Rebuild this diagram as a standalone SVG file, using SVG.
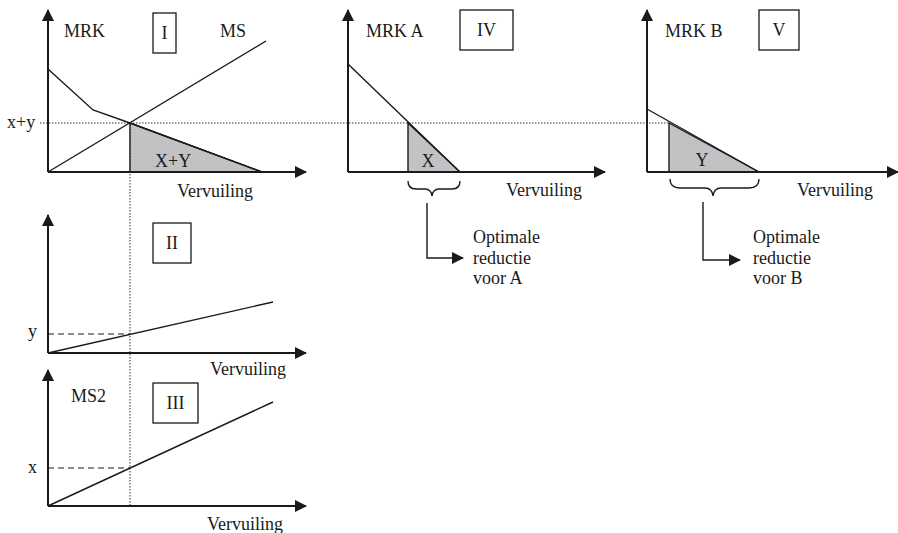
<svg xmlns="http://www.w3.org/2000/svg" width="898" height="533" viewBox="0 0 898 533">
<style>
text{font-family:"Liberation Serif","Times New Roman",serif;font-size:18px;fill:#1a1a1a}
.ax{stroke:#1a1a1a;stroke-width:2;fill:none}
.ln{stroke:#1a1a1a;stroke-width:1.4;fill:none}
.dot{stroke:#333;stroke-width:1;stroke-dasharray:1.5 1.5;fill:none}
.dash{stroke:#1a1a1a;stroke-width:1.2;stroke-dasharray:6 4;fill:none}
.sh{fill:#c2c2c4;stroke:#1a1a1a;stroke-width:1.4}
.box{fill:#fff;stroke:#1a1a1a;stroke-width:1.3}
.ah{fill:#1a1a1a}
</style>
<defs>
<marker id="arr" viewBox="0 0 12 12" refX="11" refY="6" markerWidth="12" markerHeight="12" markerUnits="userSpaceOnUse" orient="auto">
<path d="M0,0 L12,6 L0,12 Z" class="ah"/>
</marker>
</defs>

<g id="guides">
<line class="dot" x1="40" y1="123" x2="669" y2="123"/>
<line class="dot" x1="130" y1="123" x2="130" y2="505"/>
</g>

<g id="panel-I">
<polygon class="sh" points="130,123 262,172 130,172"/>
<line class="ax" x1="48" y1="172" x2="48" y2="10" marker-end="url(#arr)"/>
<line class="ax" x1="48" y1="172" x2="306" y2="172" marker-end="url(#arr)"/>
<polyline class="ln" points="48,69 93,110 130,123 262,172"/>
<line class="ln" x1="48" y1="172" x2="266" y2="41"/>
<rect class="box" x="153" y="13" width="23" height="40"/>
<text x="164.5" y="39" text-anchor="middle">I</text>
<text x="64" y="37">MRK</text>
<text x="220" y="37">MS</text>
<text x="7" y="128">x+y</text>
<text x="155" y="167">X+Y</text>
<text x="177" y="197">Vervuiling</text>
</g>

<g id="panel-II">
<line class="ax" x1="48" y1="353" x2="48" y2="215" marker-end="url(#arr)"/>
<line class="ax" x1="48" y1="353" x2="306" y2="353" marker-end="url(#arr)"/>
<line class="ln" x1="48" y1="353" x2="273" y2="302"/>
<line class="dash" x1="48" y1="334" x2="130" y2="334"/>
<rect class="box" x="153" y="223" width="38" height="40"/>
<text x="172" y="249" text-anchor="middle">II</text>
<text x="28" y="337">y</text>
<text x="210" y="375">Vervuiling</text>
</g>

<g id="panel-III">
<line class="ax" x1="48" y1="506" x2="48" y2="370" marker-end="url(#arr)"/>
<line class="ax" x1="48" y1="506" x2="306" y2="506" marker-end="url(#arr)"/>
<line class="ln" x1="48" y1="506" x2="273" y2="402"/>
<line class="dash" x1="48" y1="468" x2="130" y2="468"/>
<rect class="box" x="153" y="383" width="45" height="40"/>
<text x="175.5" y="409" text-anchor="middle">III</text>
<text x="71" y="402">MS2</text>
<text x="28" y="473">x</text>
<text x="207" y="530">Vervuiling</text>
</g>

<g id="panel-IV">
<polygon class="sh" points="408,123 460,172 408,172"/>
<line class="ax" x1="348" y1="172" x2="348" y2="10" marker-end="url(#arr)"/>
<line class="ax" x1="348" y1="172" x2="605" y2="172" marker-end="url(#arr)"/>
<line class="ln" x1="348" y1="64" x2="460" y2="172"/>
<rect class="box" x="460" y="10" width="53" height="40"/>
<text x="486.5" y="36" text-anchor="middle">IV</text>
<text x="366" y="37">MRK A</text>
<text x="428" y="167" text-anchor="middle">X</text>
<text x="506" y="196">Vervuiling</text>
<path class="ln" d="M408,181 Q408,189 416,189 L425,189 Q431,189 432,196 Q433,189 439,189 L452,189 Q460,189 460,181"/>
<text x="473" y="243">Optimale</text>
<text x="473" y="264">reductie</text>
<text x="473" y="284">voor A</text>
</g>

<g id="panel-V">
<polygon class="sh" points="669,123 759,172 669,172"/>
<line class="ax" x1="647" y1="172" x2="647" y2="10" marker-end="url(#arr)"/>
<line class="ax" x1="647" y1="172" x2="898" y2="172" marker-end="url(#arr)"/>
<line class="ln" x1="647" y1="109" x2="759" y2="172"/>
<rect class="box" x="759" y="10" width="40" height="40"/>
<text x="779" y="36" text-anchor="middle">V</text>
<text x="665" y="37">MRK B</text>
<text x="702" y="166" text-anchor="middle">Y</text>
<text x="797" y="196">Vervuiling</text>
<path class="ln" d="M670,179 Q670,188 680,188 L705,188 Q712,188 713,196 Q714,188 721,188 L749,188 Q759,188 759,179"/>
<text x="753" y="243">Optimale</text>
<text x="753" y="264">reductie</text>
<text x="753" y="284">voor B</text>
</g>

<g id="connectors">
<polyline class="ln" points="427,203 427,258 463,258" marker-end="url(#arr)"/>
<polyline class="ln" points="703,202 703,260 740,260" marker-end="url(#arr)"/>
</g>
</svg>
